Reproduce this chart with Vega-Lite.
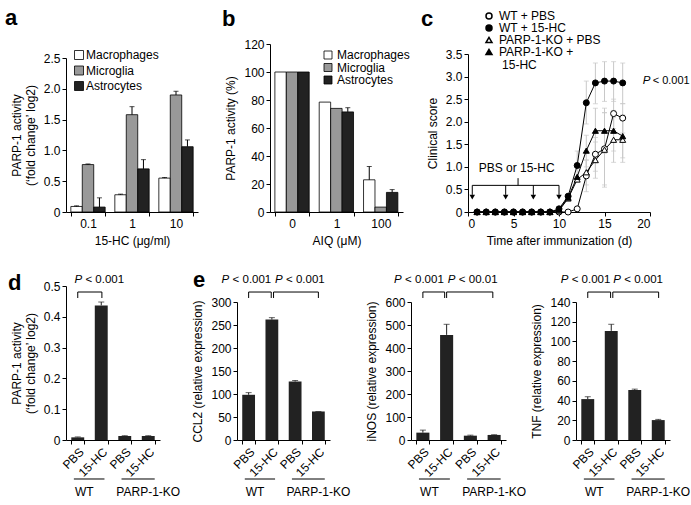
{
"$schema":"https://vega.github.io/schema/vega-lite/v6.json",
"padding":{"left":5,"top":7,"right":0,"bottom":0},
"config":{"font":"Liberation Sans","view":{"stroke":null},
 "axis":{"domainColor":"#000","tickColor":"#000","labelColor":"#000","titleColor":"#000","labelFontSize":12,"titleFontSize":12,"titleFontWeight":"normal","tickSize":4,"grid":false,"labelPadding":2,"titlePadding":6,"labelOverlap":false},
 "legend":{"labelFontSize":12,"labelColor":"#000","padding":0},
 "title":{"fontSize":22,"fontWeight":"bold","anchor":"start","frame":"group","color":"#000","offset":0,"baseline":"alphabetic"},
 "text":{"fontSize":12,"color":"#000"}},
"bounds":"full",
"spacing":23,
"resolve":{"scale":{"fill":"independent","shape":"independent"},"legend":{"fill":"independent","shape":"independent"}},
"vconcat":[
{"bounds":"flush","spacing":72,
 "resolve":{"scale":{"fill":"independent","shape":"independent"},"legend":{"fill":"independent","shape":"independent"}},
 "hconcat":[
 {"width":132,"height":168,
  "title":{"text":"a","dx":-61,"dy":-10},
  "data":{"values":[
   {"dose":"0.1","cell":"Macrophages","v":0.09,"e":0.1},
   {"dose":"0.1","cell":"Microglia","v":0.77,"e":0.78},
   {"dose":"0.1","cell":"Astrocytes","v":0.08,"e":0.23},
   {"dose":"1","cell":"Macrophages","v":0.28,"e":0.29},
   {"dose":"1","cell":"Microglia","v":1.58,"e":1.71},
   {"dose":"1","cell":"Astrocytes","v":0.7,"e":0.85},
   {"dose":"10","cell":"Macrophages","v":0.55,"e":0.56},
   {"dose":"10","cell":"Microglia","v":1.9,"e":1.96},
   {"dose":"10","cell":"Astrocytes","v":1.06,"e":1.17}]},
  "layer":[
   {"mark":{"type":"bar","stroke":"#000","strokeWidth":0.8},
    "encoding":{
     "x":{"field":"dose","type":"nominal","scale":{"domain":["0.1","1","10"],"paddingInner":0.22,"paddingOuter":0.11},"axis":{"title":"15-HC (μg/ml)","labelAngle":0,"tickBand":"extent","labelOverlap":false}},
     "xOffset":{"field":"cell","type":"nominal","scale":{"domain":["Macrophages","Microglia","Astrocytes"]}},
     "y":{"field":"v","type":"quantitative","scale":{"domain":[0,2.5],"range":[168,14],"nice":false},"axis":{"title":["PARP-1 activity","(‘fold change’ log2)"],"values":[0,0.5,1,1.5,2,2.5],"tickCount":20,"labelOverlap":false,"labelExpr":"datum.value == 0 ? '0' : format(datum.value, '.1f')"}},
     "fill":{"field":"cell","type":"nominal","scale":{"domain":["Macrophages","Microglia","Astrocytes"],"range":["#ffffff","#999999","#222222"]},
      "legend":{"orient":"none","legendX":7,"legendY":5,"title":null,"symbolType":"square","symbolSize":81,"symbolStrokeColor":"#000","symbolStrokeWidth":0.8,"labelOffset":1,"rowPadding":1.5}}}},
   {"mark":{"type":"rule","color":"#000"},"encoding":{"x":{"field":"dose","type":"nominal"},"xOffset":{"field":"cell","type":"nominal"},"y":{"field":"v","type":"quantitative"},"y2":{"field":"e"}}},
   {"mark":{"type":"tick","color":"#000","size":5,"thickness":1,"orient":"horizontal"},"encoding":{"x":{"field":"dose","type":"nominal"},"xOffset":{"field":"cell","type":"nominal"},"y":{"field":"e","type":"quantitative"}}}
  ]},
 {"bounds":"flush","spacing":65,
  "resolve":{"scale":{"fill":"independent","shape":"independent"},"legend":{"fill":"independent","shape":"independent"}},
  "hconcat":[
  {"width":133,"height":168,
   "title":{"text":"b","dx":-48,"dy":-3},
   "data":{"values":[
    {"dose":"0","cell":"Macrophages","v":100},
    {"dose":"0","cell":"Microglia","v":100},
    {"dose":"0","cell":"Astrocytes","v":100},
    {"dose":"1","cell":"Macrophages","v":78.5},
    {"dose":"1","cell":"Microglia","v":74},
    {"dose":"1","cell":"Astrocytes","v":71.5,"e":74.5},
    {"dose":"100","cell":"Macrophages","v":23,"e":32.5},
    {"dose":"100","cell":"Microglia","v":3.5},
    {"dose":"100","cell":"Astrocytes","v":14,"e":16}]},
   "layer":[
    {"mark":{"type":"bar","stroke":"#000","strokeWidth":0.8},
     "encoding":{
      "x":{"field":"dose","type":"nominal","scale":{"domain":["0","1","100"],"paddingInner":0.22,"paddingOuter":0.11},"axis":{"title":"AIQ (μM)","labelAngle":0,"tickBand":"extent","labelOverlap":false}},
      "xOffset":{"field":"cell","type":"nominal","scale":{"domain":["Macrophages","Microglia","Astrocytes"]}},
      "y":{"field":"v","type":"quantitative","scale":{"domain":[0,120],"nice":false},"axis":{"title":"PARP-1 activity (%)","values":[0,20,40,60,80,100,120],"tickCount":20,"labelOverlap":false}},
      "fill":{"field":"cell","type":"nominal","scale":{"domain":["Macrophages","Microglia","Astrocytes"],"range":["#ffffff","#999999","#222222"]},
       "legend":{"orient":"none","legendX":52,"legendY":5,"title":null,"symbolType":"square","symbolSize":64,"symbolStrokeColor":"#000","symbolStrokeWidth":0.8,"labelOffset":3,"rowPadding":0.5}}}},
    {"transform":[{"filter":"isValid(datum.e)"}],"mark":{"type":"rule","color":"#000"},"encoding":{"x":{"field":"dose","type":"nominal"},"xOffset":{"field":"cell","type":"nominal"},"y":{"field":"v","type":"quantitative"},"y2":{"field":"e"}}},
    {"transform":[{"filter":"isValid(datum.e)"}],"mark":{"type":"tick","color":"#000","size":5,"thickness":1,"orient":"horizontal"},"encoding":{"x":{"field":"dose","type":"nominal"},"xOffset":{"field":"cell","type":"nominal"},"y":{"field":"e","type":"quantitative"}}}
   ]},
  {"width":182,"height":168,
   "title":{"text":"c","dx":-47,"dy":25},
   "layer":[
    {"data":{"values":[
     {"s":"WT + PBS","d":1,"v":0},{"s":"WT + PBS","d":2,"v":0},{"s":"WT + PBS","d":3,"v":0},{"s":"WT + PBS","d":4,"v":0},{"s":"WT + PBS","d":5,"v":0},{"s":"WT + PBS","d":6,"v":0},{"s":"WT + PBS","d":7,"v":0},{"s":"WT + PBS","d":8,"v":0},{"s":"WT + PBS","d":9,"v":0},{"s":"WT + PBS","d":10,"v":0},{"s":"WT + PBS","d":11,"v":0},{"s":"WT + PBS","d":12,"v":0.07},
     {"s":"WT + PBS","d":13,"v":0.8,"lo":0.45,"hi":1.15},{"s":"WT + PBS","d":14,"v":1.28,"lo":0.9,"hi":1.65},{"s":"WT + PBS","d":15,"v":1.4,"lo":0.6,"hi":2.2},{"s":"WT + PBS","d":16,"v":2.18,"lo":1.85,"hi":2.5},{"s":"WT + PBS","d":17,"v":2.08,"lo":1.75,"hi":2.4},
     {"s":"PARP-1-KO + PBS","d":1,"v":0},{"s":"PARP-1-KO + PBS","d":2,"v":0},{"s":"PARP-1-KO + PBS","d":3,"v":0},{"s":"PARP-1-KO + PBS","d":4,"v":0},{"s":"PARP-1-KO + PBS","d":5,"v":0},{"s":"PARP-1-KO + PBS","d":6,"v":0},{"s":"PARP-1-KO + PBS","d":7,"v":0},{"s":"PARP-1-KO + PBS","d":8,"v":0},{"s":"PARP-1-KO + PBS","d":9,"v":0},{"s":"PARP-1-KO + PBS","d":10,"v":0.03},{"s":"PARP-1-KO + PBS","d":11,"v":0.3},{"s":"PARP-1-KO + PBS","d":12,"v":0.72},
     {"s":"PARP-1-KO + PBS","d":13,"v":0.88,"lo":0.6,"hi":1.15},{"s":"PARP-1-KO + PBS","d":14,"v":1.15,"lo":0.75,"hi":1.55},{"s":"PARP-1-KO + PBS","d":15,"v":1.38,"lo":0.55,"hi":2.2},{"s":"PARP-1-KO + PBS","d":16,"v":1.6,"lo":1.1,"hi":2.1},{"s":"PARP-1-KO + PBS","d":17,"v":1.6,"lo":1.1,"hi":2.1},
     {"s":"PARP-1-KO + 15-HC","d":1,"v":0},{"s":"PARP-1-KO + 15-HC","d":2,"v":0},{"s":"PARP-1-KO + 15-HC","d":3,"v":0},{"s":"PARP-1-KO + 15-HC","d":4,"v":0},{"s":"PARP-1-KO + 15-HC","d":5,"v":0},{"s":"PARP-1-KO + 15-HC","d":6,"v":0},{"s":"PARP-1-KO + 15-HC","d":7,"v":0},{"s":"PARP-1-KO + 15-HC","d":8,"v":0},{"s":"PARP-1-KO + 15-HC","d":9,"v":0},{"s":"PARP-1-KO + 15-HC","d":10,"v":0.05},{"s":"PARP-1-KO + 15-HC","d":11,"v":0.32},{"s":"PARP-1-KO + 15-HC","d":12,"v":0.78},
     {"s":"PARP-1-KO + 15-HC","d":13,"v":1.36,"lo":1.0,"hi":1.7},{"s":"PARP-1-KO + 15-HC","d":14,"v":1.8,"lo":1.3,"hi":2.3},{"s":"PARP-1-KO + 15-HC","d":15,"v":1.8,"lo":1.3,"hi":2.3},{"s":"PARP-1-KO + 15-HC","d":16,"v":1.8,"lo":1.35,"hi":2.25},{"s":"PARP-1-KO + 15-HC","d":17,"v":1.68,"lo":1.2,"hi":2.15},
     {"s":"WT + 15-HC","d":1,"v":0},{"s":"WT + 15-HC","d":2,"v":0},{"s":"WT + 15-HC","d":3,"v":0},{"s":"WT + 15-HC","d":4,"v":0},{"s":"WT + 15-HC","d":5,"v":0},{"s":"WT + 15-HC","d":6,"v":0},{"s":"WT + 15-HC","d":7,"v":0},{"s":"WT + 15-HC","d":8,"v":0},{"s":"WT + 15-HC","d":9,"v":0},{"s":"WT + 15-HC","d":10,"v":0.07},{"s":"WT + 15-HC","d":11,"v":0.35},{"s":"WT + 15-HC","d":12,"v":1.03,"lo":0.7,"hi":1.35},
     {"s":"WT + 15-HC","d":13,"v":2.42,"lo":1.95,"hi":2.9},{"s":"WT + 15-HC","d":14,"v":2.86,"lo":2.4,"hi":3.3},{"s":"WT + 15-HC","d":15,"v":2.9,"lo":2.45,"hi":3.33},{"s":"WT + 15-HC","d":16,"v":2.9,"lo":2.45,"hi":3.33},{"s":"WT + 15-HC","d":17,"v":2.86,"lo":2.4,"hi":3.3}]},
     "layer":[
      {"transform":[{"filter":"isValid(datum.lo)"}],"mark":{"type":"rule","color":"#c8c8c8"},"encoding":{"x":{"field":"d","type":"quantitative"},"y":{"field":"lo","type":"quantitative"},"y2":{"field":"hi"}}},
      {"transform":[{"filter":"isValid(datum.lo)"}],"mark":{"type":"tick","color":"#c8c8c8","size":5,"thickness":1,"orient":"horizontal"},"encoding":{"x":{"field":"d","type":"quantitative"},"y":{"field":"lo","type":"quantitative"}}},
      {"transform":[{"filter":"isValid(datum.hi)"}],"mark":{"type":"tick","color":"#c8c8c8","size":5,"thickness":1,"orient":"horizontal"},"encoding":{"x":{"field":"d","type":"quantitative"},"y":{"field":"hi","type":"quantitative"}}},
      {"mark":{"type":"line","color":"#000","strokeWidth":1},"encoding":{
        "x":{"field":"d","type":"quantitative","scale":{"domain":[0,20],"nice":false},"axis":{"title":"Time after immunization (d)","values":[0,5,10,15,20],"tickCount":20,"labelOverlap":false}},
        "y":{"field":"v","type":"quantitative","scale":{"domain":[0,3.5],"range":[168,10],"nice":false},"axis":{"title":"Clinical score","values":[0,0.5,1,1.5,2,2.5,3,3.5],"tickCount":20,"labelOverlap":false,"labelExpr":"datum.value == 0 ? '0' : format(datum.value, '.1f')"}},
        "detail":{"field":"s"}}},
      {"mark":{"type":"point","filled":true,"stroke":"#000","strokeWidth":1,"opacity":1,"size":36},"encoding":{
        "x":{"field":"d","type":"quantitative"},
        "y":{"field":"v","type":"quantitative"},
        "shape":{"field":"s","type":"nominal","scale":{"domain":["WT + PBS","WT + 15-HC","PARP-1-KO + PBS","PARP-1-KO + 15-HC"],"range":["circle","circle","triangle-up","triangle-up"]},
          "legend":{"orient":"none","legendX":15,"legendY":-34,"title":null,"symbolSize":36,"labelOffset":4,"rowPadding":0,
           "labelExpr":"datum.label == 'PARP-1-KO + 15-HC' ? 'PARP-1-KO +' : datum.label",
           "encode":{"symbols":{"update":{
             "shape":{"signal":"indexof(datum.value, 'WT') == 0 ? 'M-2.5,0H-1M1,0H2.5M-1,0A1,1,0,1,1,1,0A1,1,0,1,1,-1,0Z' : 'M-2.5,0.17H-0.78M0.78,0.17H2.5M-1.17,0.83L0,-1.17L1.17,0.83Z'"},
             "fill":{"signal":"indexof(datum.value, '15-HC') > 0 ? '#000000' : '#ffffff'"},
             "stroke":{"value":"#000000"},"strokeWidth":{"value":1},"opacity":{"value":1}}}}}},
        "fill":{"field":"s","type":"nominal","scale":{"domain":["WT + PBS","WT + 15-HC","PARP-1-KO + PBS","PARP-1-KO + 15-HC"],"range":["#ffffff","#000000","#ffffff","#000000"]},"legend":null}}}
     ]},
    {"data":{"values":[{"day":0.47},{"day":4.14},{"day":7.18},{"day":10}]},
     "layer":[
      {"mark":{"type":"rule","color":"#000"},"encoding":{"x":{"field":"day","type":"quantitative"},"y":{"datum":0.59},"y2":{"datum":0.38}}},
      {"mark":{"type":"point","shape":"triangle-down","filled":true,"color":"#000","size":30,"opacity":1},"encoding":{"x":{"field":"day","type":"quantitative"},"y":{"datum":0.33}}}
     ]},
    {"data":{"values":[{}]},
     "layer":[
      {"mark":{"type":"rule","color":"#000"},"encoding":{"x":{"datum":0.47},"x2":{"datum":10},"y":{"datum":0.59}}},
      {"mark":{"type":"rule","color":"#000"},"encoding":{"x":{"datum":5.5},"y":{"datum":0.59},"y2":{"datum":0.75}}},
      {"mark":{"type":"text","align":"center","baseline":"middle"},"encoding":{"x":{"datum":5.35},"y":{"datum":0.97},"text":{"value":"PBS or 15-HC"}}},
      {"mark":{"type":"text","fontStyle":"italic","align":"left","baseline":"middle","fontSize":11.5},"encoding":{"x":{"datum":19.2},"y":{"datum":2.9},"text":{"value":"P"}}},
      {"mark":{"type":"text","align":"left","baseline":"middle","dx":10,"fontSize":11},"encoding":{"x":{"datum":19.2},"y":{"datum":2.9},"text":{"value":"< 0.001"}}},
      {"mark":{"type":"text","align":"left","baseline":"middle"},"encoding":{"x":{"datum":3.74},"y":{"datum":3.25},"text":{"value":"15-HC"}}}
     ]}
   ]}
 ]}
]},
{"bounds":"flush","spacing":77,"hconcat":[
 {"width":94,"height":154,
  "title":{"text":"d","dx":-58,"dy":25},
  "layer":[
   {"data":{"values":[{"c":"WT PBS","v":0.0086,"e":0.01},{"c":"WT 15-HC","v":0.437,"e":0.448},{"c":"KO PBS","v":0.013,"e":0.014},{"c":"KO 15-HC","v":0.013,"e":0.014}]},
    "layer":[
     {"mark":{"type":"bar","color":"#222222"},"encoding":{
       "x":{"field":"c","type":"nominal","scale":{"domain":["WT PBS","WT 15-HC","KO PBS","KO 15-HC"],"paddingInner":0.45,"paddingOuter":0.225},"axis":{"title":null,"labelAngle":-45,"tickBand":"extent","labelOverlap":false,"labelExpr":"(datum.label == 'WT PBS' || datum.label == 'KO PBS') ? 'PBS' : ((datum.label == 'WT 15-HC' || datum.label == 'KO 15-HC') ? '15-HC' : '')"}},
       "y":{"field":"v","type":"quantitative","scale":{"domain":[0,0.5],"nice":false},"axis":{"title":["PARP-1 activity","(‘fold change’ log2)"],"values":[0,0.1,0.2,0.3,0.4,0.5],"tickCount":20,"labelOverlap":false,"labelExpr":"datum.value == 0 ? '0' : format(datum.value, '.1f')"}}}},
     {"mark":{"type":"rule","color":"#222222"},"encoding":{"x":{"field":"c","type":"nominal"},"y":{"field":"v","type":"quantitative"},"y2":{"field":"e"}}},
     {"mark":{"type":"tick","color":"#222222","size":6,"thickness":1,"orient":"horizontal"},"encoding":{"x":{"field":"c","type":"nominal"},"y":{"field":"e","type":"quantitative"}}}
    ]},
   {"data":{"values":[{}]},
    "layer":[
     {"mark":{"type":"rule","color":"#000"},"encoding":{"x":{"datum":"WT PBS","bandPosition":0.5},"x2":{"datum":"WT 15-HC","bandPosition":0.55},"y":{"datum":0.4805}}},
     {"mark":{"type":"rule","color":"#000"},"encoding":{"x":{"datum":"WT PBS","bandPosition":0.5},"y":{"datum":0.4805},"y2":{"datum":0.461}}},
     {"mark":{"type":"rule","color":"#000"},"encoding":{"x":{"datum":"WT 15-HC","bandPosition":0.55},"y":{"datum":0.4805},"y2":{"datum":0.461}}},
     {"mark":{"type":"text","fontStyle":"italic","align":"left","baseline":"middle","dx":-25,"fontSize":11.5},"encoding":{"x":{"datum":"WT 15-HC","bandPosition":0.36},"y":{"datum":0.5195},"text":{"value":"P"}}},
     {"mark":{"type":"text","align":"left","baseline":"middle","dx":-14,"fontSize":11.5},"encoding":{"x":{"datum":"WT 15-HC","bandPosition":0.36},"y":{"datum":0.5195},"text":{"value":"< 0.001"}}},
     {"mark":{"type":"rule","color":"#000"},"encoding":{"x":{"datum":"WT PBS","bandPosition":0.2},"x2":{"datum":"WT 15-HC","bandPosition":0.75},"y":{"datum":-0.1266}}},
     {"mark":{"type":"rule","color":"#000"},"encoding":{"x":{"datum":"KO PBS","bandPosition":0.25},"x2":{"datum":"KO 15-HC","bandPosition":1},"y":{"datum":-0.1266}}},
     {"mark":{"type":"text","align":"center","baseline":"middle"},"encoding":{"x":{"datum":"WT PBS","bandPosition":1},"y":{"datum":-0.1688},"text":{"value":"WT"}}},
     {"mark":{"type":"text","align":"center","baseline":"middle"},"encoding":{"x":{"datum":"KO 15-HC","bandPosition":0.5},"y":{"datum":-0.1688},"text":{"value":"PARP-1-KO"}}}
    ]}
  ]},
 {"bounds":"flush","spacing":81,"hconcat":[
  {"width":93,"height":154,
   "title":{"text":"e","dx":-44,"dy":22},
   "layer":[
    {"data":{"values":[{"c":"WT PBS","v":98.3,"e":103},{"c":"WT 15-HC","v":261.7,"e":266},{"c":"KO PBS","v":127,"e":129.4},{"c":"KO 15-HC","v":62,"e":62}]},
     "layer":[
      {"mark":{"type":"bar","color":"#222222"},"encoding":{
        "x":{"field":"c","type":"nominal","scale":{"domain":["WT PBS","WT 15-HC","KO PBS","KO 15-HC"],"paddingInner":0.45,"paddingOuter":0.225},"axis":{"title":null,"labelAngle":-45,"tickBand":"extent","labelOverlap":false,"labelExpr":"(datum.label == 'WT PBS' || datum.label == 'KO PBS') ? 'PBS' : ((datum.label == 'WT 15-HC' || datum.label == 'KO 15-HC') ? '15-HC' : '')"}},
        "y":{"field":"v","type":"quantitative","scale":{"domain":[0,300],"range":[154,16],"nice":false},"axis":{"title":"CCL2 (relative expression)","values":[0,50,100,150,200,250,300],"tickCount":20,"labelOverlap":false}}}},
      {"mark":{"type":"rule","color":"#222222"},"encoding":{"x":{"field":"c","type":"nominal"},"y":{"field":"v","type":"quantitative"},"y2":{"field":"e"}}},
      {"mark":{"type":"tick","color":"#222222","size":6,"thickness":1,"orient":"horizontal"},"encoding":{"x":{"field":"c","type":"nominal"},"y":{"field":"e","type":"quantitative"}}}
     ]},
    {"data":{"values":[{}]},
     "layer":[
      {"mark":{"type":"rule","color":"#000"},"encoding":{"x":{"datum":"WT PBS","bandPosition":0.5},"x2":{"datum":"WT 15-HC","bandPosition":0.45},"y":{"datum":321.7}}},
      {"mark":{"type":"rule","color":"#000"},"encoding":{"x":{"datum":"WT PBS","bandPosition":0.5},"y":{"datum":321.7},"y2":{"datum":308.7}}},
      {"mark":{"type":"rule","color":"#000"},"encoding":{"x":{"datum":"WT 15-HC","bandPosition":0.45},"y":{"datum":321.7},"y2":{"datum":308.7}}},
      {"mark":{"type":"rule","color":"#000"},"encoding":{"x":{"datum":"WT 15-HC","bandPosition":0.63},"x2":{"datum":"KO 15-HC","bandPosition":0.5},"y":{"datum":321.7}}},
      {"mark":{"type":"rule","color":"#000"},"encoding":{"x":{"datum":"WT 15-HC","bandPosition":0.63},"y":{"datum":321.7},"y2":{"datum":308.7}}},
      {"mark":{"type":"rule","color":"#000"},"encoding":{"x":{"datum":"KO 15-HC","bandPosition":0.5},"y":{"datum":321.7},"y2":{"datum":308.7}}},
      {"mark":{"type":"text","fontStyle":"italic","align":"left","baseline":"middle","dx":-25,"fontSize":11.5},"encoding":{"x":{"datum":"WT PBS","bandPosition":0.34},"y":{"datum":347.8},"text":{"value":"P"}}},
      {"mark":{"type":"text","align":"left","baseline":"middle","dx":-14,"fontSize":11.5},"encoding":{"x":{"datum":"WT PBS","bandPosition":0.34},"y":{"datum":347.8},"text":{"value":"< 0.001"}}},
      {"mark":{"type":"text","fontStyle":"italic","align":"left","baseline":"middle","dx":-25,"fontSize":11.5},"encoding":{"x":{"datum":"KO PBS","bandPosition":0.88},"y":{"datum":347.8},"text":{"value":"P"}}},
      {"mark":{"type":"text","align":"left","baseline":"middle","dx":-14,"fontSize":11.5},"encoding":{"x":{"datum":"KO PBS","bandPosition":0.88},"y":{"datum":347.8},"text":{"value":"< 0.001"}}},
      {"mark":{"type":"rule","color":"#000"},"encoding":{"x":{"datum":"WT PBS","bandPosition":0.2},"x2":{"datum":"WT 15-HC","bandPosition":0.75},"y":{"datum":-84.8}}},
      {"mark":{"type":"rule","color":"#000"},"encoding":{"x":{"datum":"KO PBS","bandPosition":0.25},"x2":{"datum":"KO 15-HC","bandPosition":1},"y":{"datum":-84.8}}},
      {"mark":{"type":"text","align":"center","baseline":"middle"},"encoding":{"x":{"datum":"WT PBS","bandPosition":1},"y":{"datum":-113},"text":{"value":"WT"}}},
      {"mark":{"type":"text","align":"center","baseline":"middle"},"encoding":{"x":{"datum":"KO 15-HC","bandPosition":0.5},"y":{"datum":-113},"text":{"value":"PARP-1-KO"}}}
     ]}
   ]},
  {"bounds":"flush","spacing":70,"hconcat":[
   {"width":95,"height":154,
    "layer":[
     {"data":{"values":[{"c":"WT PBS","v":32,"e":43},{"c":"WT 15-HC","v":457,"e":503},{"c":"KO PBS","v":18.8,"e":21},{"c":"KO 15-HC","v":22,"e":23}]},
      "layer":[
       {"mark":{"type":"bar","color":"#222222"},"encoding":{
         "x":{"field":"c","type":"nominal","scale":{"domain":["WT PBS","WT 15-HC","KO PBS","KO 15-HC"],"paddingInner":0.45,"paddingOuter":0.225},"axis":{"title":null,"labelAngle":-45,"tickBand":"extent","labelOverlap":false,"labelExpr":"(datum.label == 'WT PBS' || datum.label == 'KO PBS') ? 'PBS' : ((datum.label == 'WT 15-HC' || datum.label == 'KO 15-HC') ? '15-HC' : '')"}},
         "y":{"field":"v","type":"quantitative","scale":{"domain":[0,600],"range":[154,16],"nice":false},"axis":{"title":"iNOS (relative expression)","values":[0,100,200,300,400,500,600],"tickCount":20,"labelOverlap":false}}}},
       {"mark":{"type":"rule","color":"#222222"},"encoding":{"x":{"field":"c","type":"nominal"},"y":{"field":"v","type":"quantitative"},"y2":{"field":"e"}}},
       {"mark":{"type":"tick","color":"#222222","size":6,"thickness":1,"orient":"horizontal"},"encoding":{"x":{"field":"c","type":"nominal"},"y":{"field":"e","type":"quantitative"}}}
      ]},
     {"data":{"values":[{}]},
      "layer":[
       {"mark":{"type":"rule","color":"#000"},"encoding":{"x":{"datum":"WT PBS","bandPosition":0.5},"x2":{"datum":"WT 15-HC","bandPosition":0.35},"y":{"datum":643.5}}},
       {"mark":{"type":"rule","color":"#000"},"encoding":{"x":{"datum":"WT PBS","bandPosition":0.5},"y":{"datum":643.5},"y2":{"datum":617.4}}},
       {"mark":{"type":"rule","color":"#000"},"encoding":{"x":{"datum":"WT 15-HC","bandPosition":0.35},"y":{"datum":643.5},"y2":{"datum":617.4}}},
       {"mark":{"type":"rule","color":"#000"},"encoding":{"x":{"datum":"WT 15-HC","bandPosition":0.5},"x2":{"datum":"KO 15-HC","bandPosition":0.4},"y":{"datum":643.5}}},
       {"mark":{"type":"rule","color":"#000"},"encoding":{"x":{"datum":"WT 15-HC","bandPosition":0.5},"y":{"datum":643.5},"y2":{"datum":617.4}}},
       {"mark":{"type":"rule","color":"#000"},"encoding":{"x":{"datum":"KO 15-HC","bandPosition":0.4},"y":{"datum":643.5},"y2":{"datum":617.4}}},
       {"mark":{"type":"text","fontStyle":"italic","align":"left","baseline":"middle","dx":-25,"fontSize":11.5},"encoding":{"x":{"datum":"WT PBS","bandPosition":0.21},"y":{"datum":695.7},"text":{"value":"P"}}},
       {"mark":{"type":"text","align":"left","baseline":"middle","dx":-14,"fontSize":11.5},"encoding":{"x":{"datum":"WT PBS","bandPosition":0.21},"y":{"datum":695.7},"text":{"value":"< 0.001"}}},
       {"mark":{"type":"text","fontStyle":"italic","align":"left","baseline":"middle","dx":-25,"fontSize":11.5},"encoding":{"x":{"datum":"KO PBS","bandPosition":0.69},"y":{"datum":695.7},"text":{"value":"P"}}},
       {"mark":{"type":"text","align":"left","baseline":"middle","dx":-14,"fontSize":11.5},"encoding":{"x":{"datum":"KO PBS","bandPosition":0.69},"y":{"datum":695.7},"text":{"value":"< 00.01"}}},
       {"mark":{"type":"rule","color":"#000"},"encoding":{"x":{"datum":"WT PBS","bandPosition":0.2},"x2":{"datum":"WT 15-HC","bandPosition":0.75},"y":{"datum":-169.6}}},
       {"mark":{"type":"rule","color":"#000"},"encoding":{"x":{"datum":"KO PBS","bandPosition":0.25},"x2":{"datum":"KO 15-HC","bandPosition":1},"y":{"datum":-169.6}}},
       {"mark":{"type":"text","align":"center","baseline":"middle"},"encoding":{"x":{"datum":"WT PBS","bandPosition":1},"y":{"datum":-226},"text":{"value":"WT"}}},
       {"mark":{"type":"text","align":"center","baseline":"middle"},"encoding":{"x":{"datum":"KO 15-HC","bandPosition":0.5},"y":{"datum":-226},"text":{"value":"PARP-1-KO"}}}
      ]}
    ]},
   {"width":94,"height":154,
    "layer":[
     {"data":{"values":[{"c":"WT PBS","v":41.5,"e":43.9},{"c":"WT 15-HC","v":110.7,"e":117.4},{"c":"KO PBS","v":50.6,"e":51.6},{"c":"KO 15-HC","v":20.2,"e":20.9}]},
      "layer":[
       {"mark":{"type":"bar","color":"#222222"},"encoding":{
         "x":{"field":"c","type":"nominal","scale":{"domain":["WT PBS","WT 15-HC","KO PBS","KO 15-HC"],"paddingInner":0.45,"paddingOuter":0.225},"axis":{"title":null,"labelAngle":-45,"tickBand":"extent","labelOverlap":false,"labelExpr":"(datum.label == 'WT PBS' || datum.label == 'KO PBS') ? 'PBS' : ((datum.label == 'WT 15-HC' || datum.label == 'KO 15-HC') ? '15-HC' : '')"}},
         "y":{"field":"v","type":"quantitative","scale":{"domain":[0,140],"range":[154,16],"nice":false},"axis":{"title":"TNF (relative expression)","values":[0,20,40,60,80,100,120,140],"tickCount":20,"labelOverlap":false}}}},
       {"mark":{"type":"rule","color":"#222222"},"encoding":{"x":{"field":"c","type":"nominal"},"y":{"field":"v","type":"quantitative"},"y2":{"field":"e"}}},
       {"mark":{"type":"tick","color":"#222222","size":6,"thickness":1,"orient":"horizontal"},"encoding":{"x":{"field":"c","type":"nominal"},"y":{"field":"e","type":"quantitative"}}}
      ]},
     {"data":{"values":[{}]},
      "layer":[
       {"mark":{"type":"rule","color":"#000"},"encoding":{"x":{"datum":"WT PBS","bandPosition":0.5},"x2":{"datum":"WT 15-HC","bandPosition":0.45},"y":{"datum":150.1}}},
       {"mark":{"type":"rule","color":"#000"},"encoding":{"x":{"datum":"WT PBS","bandPosition":0.5},"y":{"datum":150.1},"y2":{"datum":144.1}}},
       {"mark":{"type":"rule","color":"#000"},"encoding":{"x":{"datum":"WT 15-HC","bandPosition":0.45},"y":{"datum":150.1},"y2":{"datum":144.1}}},
       {"mark":{"type":"rule","color":"#000"},"encoding":{"x":{"datum":"WT 15-HC","bandPosition":0.62},"x2":{"datum":"KO 15-HC","bandPosition":0.53},"y":{"datum":150.1}}},
       {"mark":{"type":"rule","color":"#000"},"encoding":{"x":{"datum":"WT 15-HC","bandPosition":0.62},"y":{"datum":150.1},"y2":{"datum":144.1}}},
       {"mark":{"type":"rule","color":"#000"},"encoding":{"x":{"datum":"KO 15-HC","bandPosition":0.53},"y":{"datum":150.1},"y2":{"datum":144.1}}},
       {"mark":{"type":"text","fontStyle":"italic","align":"left","baseline":"middle","dx":-25,"fontSize":11.5},"encoding":{"x":{"datum":"WT PBS","bandPosition":0.34},"y":{"datum":162.3},"text":{"value":"P"}}},
       {"mark":{"type":"text","align":"left","baseline":"middle","dx":-14,"fontSize":11.5},"encoding":{"x":{"datum":"WT PBS","bandPosition":0.34},"y":{"datum":162.3},"text":{"value":"< 0.001"}}},
       {"mark":{"type":"text","fontStyle":"italic","align":"left","baseline":"middle","dx":-25,"fontSize":11.5},"encoding":{"x":{"datum":"KO PBS","bandPosition":0.77},"y":{"datum":162.3},"text":{"value":"P"}}},
       {"mark":{"type":"text","align":"left","baseline":"middle","dx":-14,"fontSize":11.5},"encoding":{"x":{"datum":"KO PBS","bandPosition":0.77},"y":{"datum":162.3},"text":{"value":"< 0.001"}}},
       {"mark":{"type":"rule","color":"#000"},"encoding":{"x":{"datum":"WT PBS","bandPosition":0.2},"x2":{"datum":"WT 15-HC","bandPosition":0.75},"y":{"datum":-39.6}}},
       {"mark":{"type":"rule","color":"#000"},"encoding":{"x":{"datum":"KO PBS","bandPosition":0.25},"x2":{"datum":"KO 15-HC","bandPosition":1},"y":{"datum":-39.6}}},
       {"mark":{"type":"text","align":"center","baseline":"middle"},"encoding":{"x":{"datum":"WT PBS","bandPosition":1},"y":{"datum":-52.8},"text":{"value":"WT"}}},
       {"mark":{"type":"text","align":"center","baseline":"middle"},"encoding":{"x":{"datum":"KO 15-HC","bandPosition":0.5},"y":{"datum":-52.8},"text":{"value":"PARP-1-KO"}}}
      ]}
    ]}
  ]}
 ]}
]}
]
}
